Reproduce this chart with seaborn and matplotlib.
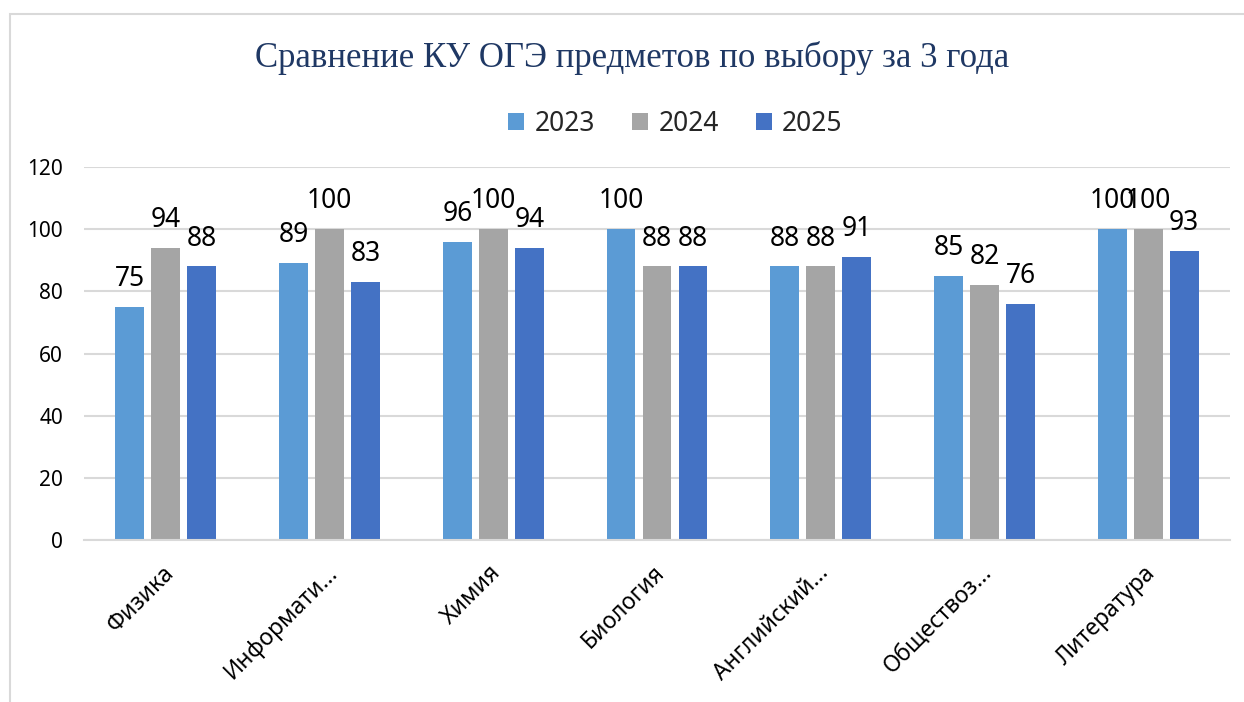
import matplotlib
matplotlib.use("Agg")
import matplotlib.pyplot as plt
import matplotlib.transforms as mtransforms
import seaborn as sns
import pandas as pd
from matplotlib.patches import Rectangle, Patch

categories = ["Физика", "Информати...", "Химия", "Биология", "Английский...", "Обществоз...", "Литература"]
years = ["2023", "2024", "2025"]
v2023 = [75, 89, 96, 100, 88, 85, 100]
v2024 = [94, 100, 100, 88, 88, 82, 100]
v2025 = [88, 83, 94, 88, 91, 76, 93]
colors = ["#5B9BD5", "#A5A5A5", "#4472C4"]
yticks = [0, 20, 40, 60, 80, 100, 120]

rows = []
for y, vals in zip(years, [v2023, v2024, v2025]):
    for c, v in zip(categories, vals):
        rows.append({"cat": c, "year": y, "val": v})
df = pd.DataFrame(rows)

sns.set_theme(style="white")
plt.rcParams['font.family'] = ['Noto Sans', 'DejaVu Sans']

fig = plt.figure(figsize=(12.44, 7.02), dpi=100)
ax = fig.add_axes([84/1244, 1-540/702, (1230-84)/1244, (540-167)/702])

sns.barplot(data=df, x="cat", y="val", hue="year", palette=colors, order=categories,
            hue_order=years, width=0.66, gap=0.2, ax=ax, legend=False, saturation=1,
            edgecolor="none", linewidth=0)

for cont in ax.containers:
    ax.bar_label(cont, fmt="%d", padding=10, fontsize=19, color="#000000")

ax.set_ylim(0, 120)
ax.set_xlim(-0.5, len(categories)-0.5)
ax.set_yticks(yticks)
ax.yaxis.grid(True, color="#D9D9D9", linewidth=1.5)
ax.set_axisbelow(True)
for s in ["top", "right", "left"]:
    ax.spines[s].set_visible(False)
ax.spines["bottom"].set_color("#D9D9D9")
ax.spines["bottom"].set_linewidth(1.5)
ax.tick_params(axis="both", length=0, labelsize=15, colors="#000000")
ax.tick_params(axis="y", pad=15)
ax.tick_params(axis="x", pad=15)
ax.set_xlabel("")
ax.set_ylabel("")
offset = mtransforms.ScaledTranslation(-4/100, 0, fig.dpi_scale_trans)
for lbl in ax.get_xticklabels():
    lbl.set_rotation(45)
    lbl.set_ha("right")
    lbl.set_rotation_mode("anchor")
    lbl.set_fontsize(16.5)
    lbl.set_transform(lbl.get_transform() + offset)

fig.text(0.508, 0.918, "Сравнение КУ ОГЭ предметов по выбору за 3 года",
         ha="center", va="center", fontsize=25, color="#1F3864", family="Liberation Serif")

handles = [Patch(facecolor=c, edgecolor="none") for c in colors]
fig.legend(handles, years, loc="center", bbox_to_anchor=(0.543, 0.824), ncol=3, frameon=False,
           fontsize=19, handlelength=0.6, handleheight=0.6, handletextpad=0.4, columnspacing=1.4)

fig.patches.append(Rectangle((10/1244, -0.1), 1.2, 1-14/702+0.1, transform=fig.transFigure,
                             fill=False, edgecolor="#D9D9D9", linewidth=1.5))

fig.savefig("out.png", dpi=100)
